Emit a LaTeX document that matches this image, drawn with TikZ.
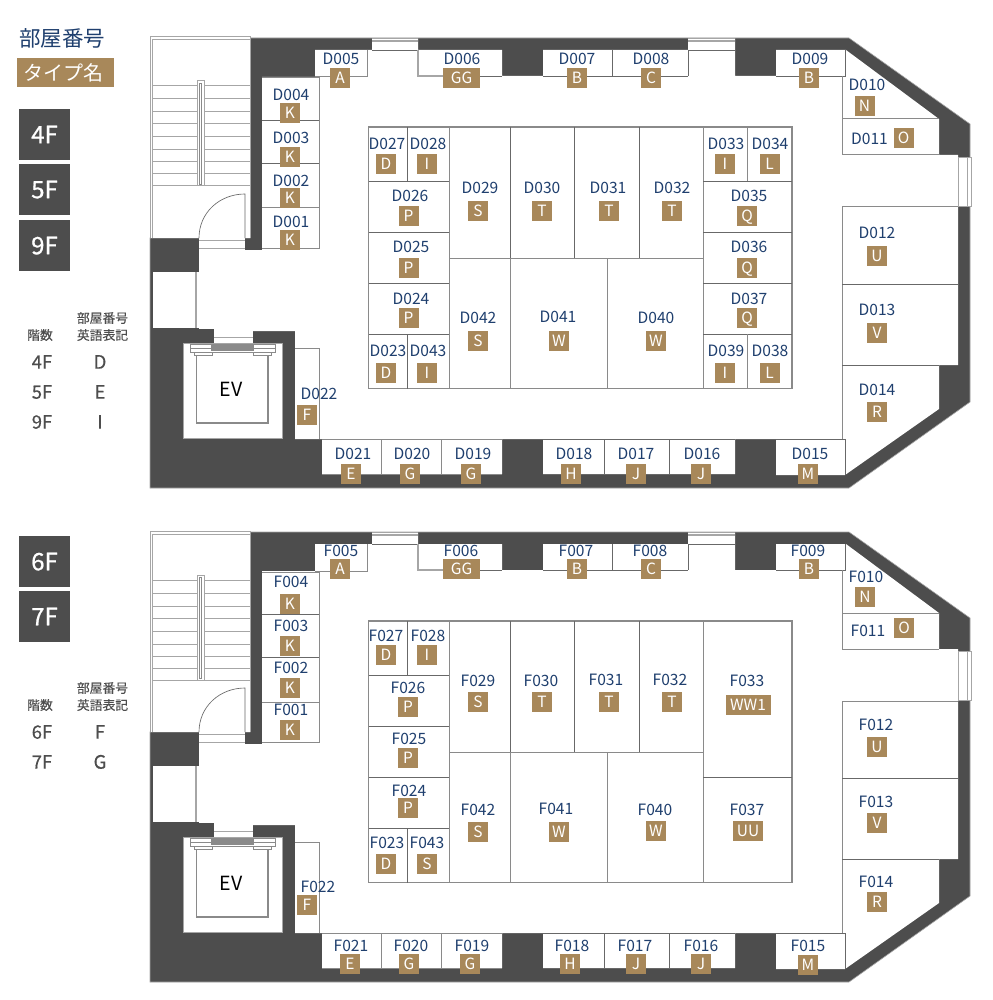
\documentclass[tikz,border=0pt]{standalone}
\usepackage{fontspec}
\setmainfont{Noto Sans CJK JP}
\definecolor{wall}{HTML}{4D4D4D}
\definecolor{tagc}{HTML}{A8885A}
\definecolor{navy}{HTML}{1F3F6E}
\definecolor{ln}{HTML}{8A8A8A}
\definecolor{lnl}{HTML}{A6A6A6}
\tikzset{
 roomtext/.style={inner sep=0pt,text=navy,font=\fontsize{15.6}{15.6}\selectfont,text height=11.4pt,text depth=0pt},
 tagbox/.style={inner sep=0pt,fill=tagc,text=white,minimum height=20pt,minimum width=20pt,font=\fontsize{15.5}{15.5}\selectfont,text height=11pt,text depth=0pt},
 floorbox/.style={inner sep=0pt,fill=wall,text=white,minimum size=51pt,font=\fontsize{24}{24}\selectfont\addfontfeature{FakeBold=0.8},text height=17.5pt,text depth=0pt},
 legendhead/.style={inner sep=0pt,text=wall,font=\fontsize{12.8}{12.8}\selectfont\addfontfeature{FakeBold=0.3}},
 legendcell/.style={inner sep=0pt,text=wall,font=\fontsize{18.5}{18.5}\selectfont\addfontfeature{FakeBold=0.4},text height=13.4pt,text depth=0pt},
 roomline/.style={draw=ln,line width=1pt},
 thinline/.style={draw=wall!85,line width=0.65pt},
 lightline/.style={draw=lnl,line width=1.2pt},
}
\newcommand\rmlab[7][20pt]{%
 \node[roomtext] (#2) at (#3,#4) {#2};
 \node[tagbox,minimum width=#1] (#2t) at (#6,#7) {#5};}
\newcommand\shell{%
 % walls
 \fill[wall,draw=lnl,line width=0.6pt] (150,238) -- (150,488) -- (849,488) -- (970,402) -- (970,124) -- (849,38) -- (250,38) -- (250,238) -- cycle;
 % free floor
 \fill[white] (199,250) -- (262,250) -- (262,77) -- (315,77) -- (315,50) -- (372,50) -- (372,38.5) -- (418,38.5) -- (418,50) -- (502,50) -- (502,76) -- (543,76) -- (543,50) -- (688,50) -- (688,38.5) -- (735,38.5) -- (735,76) -- (776,76) -- (776,50) -- (846,50) -- (939,119) -- (939,155) -- (958,155) -- (958,365) -- (939,365) -- (939,409) -- (845,475) -- (776,475) -- (776,439) -- (735,439) -- (735,474) -- (543,474) -- (543,439) -- (502,439) -- (502,474) -- (322,474) -- (322,439) -- (295,439) -- (295,331) -- (199,331) -- cycle;
 \fill[white] (199,238) rectangle (245,250);
 \fill[white] (153,272) rectangle (199,328);
 \fill[white] (150,37) rectangle (250,238);
 \fill[white] (183,343) rectangle (282,438);
 \fill[white] (214,331) rectangle (253,343);
 \fill[wall] (199,328.5) rectangle (214,343);
 \fill[white] (958,157) rectangle (971,206);
 % stair
 \draw[lightline,line width=1pt] (150,238) -- (150,37) -- (250,37) -- (250,238);
 \draw[lightline,line width=1pt] (152.5,238) -- (152.5,40) -- (250,40);
 \foreach \yy in {86,99,112,124,137,150,162,174,186}{
  \draw[lightline,line width=1pt] (153,\yy) -- (197,\yy) (204,\yy) -- (250,\yy);}
 \draw[lightline,line width=1pt] (197,81) rectangle (204,186);
 \draw[ln,line width=0.7pt] (199.5,83) rectangle (201.5,184);
 \draw[thinline] (199,238) .. controls (199,212.6) and (219.6,194) .. (245,194) -- (245,238);
 \draw[lightline,line width=0.9pt] (199,240) -- (245,240) (199,248) -- (245,248);
 \draw[lightline,line width=1.5pt] (196,272) -- (196,328);
 % windows
 \draw[lightline,line width=0.8pt] (372,38) -- (418,38) (688,38) -- (735,38);
 \draw[lightline] (372,41) -- (418,41) (688,41) -- (735,41);
 \draw[thinline] (372,50) -- (418,50) (688,50) -- (735,50);
 \draw[lightline,line width=0.8pt] (958,157) rectangle (971,206);
 \draw[lightline,line width=0.8pt] (967,157) -- (967,206);
 % elevator
 \draw[lightline,line width=0.8pt] (214,337) -- (253,337) (214,343) -- (253,343);
 \draw[lightline,line width=0.8pt] (183,343) rectangle (282,438);
 \draw[ln,line width=0.6pt] (190,344.5) rectangle (275,352) (190,348.2) -- (275,348.2);
 \fill[ln] (211,345) rectangle (254,351);
 \draw[ln,line width=0.7pt] (194,352) -- (194,355) -- (212,355) -- (212,352) (253,352) -- (253,355) -- (271,355) -- (271,352);
 \draw[ln,line width=1.4pt] (196.5,355) -- (196.5,423) -- (268,423) -- (268,355);
 \node[inner sep=0pt,text=black,font=\fontsize{19.5}{19.5}\selectfont,text height=14.5pt,text depth=0pt] (EV\thefloornum) at (231,389) {EV};
 % edge rooms
 \draw[roomline] (262,78) -- (319,78) -- (319,248) -- (262,248);
 \draw[thinline] (262,120) -- (319,120) (262,163) -- (319,163);
 \draw[roomline] (262,208) -- (319,208);
 \draw[roomline] (367,50) -- (367,77) -- (315,77);
 \draw[lightline] (418,50) -- (418,76) -- (443,76);
 \draw[thinline] (480,76) -- (502,76);
 \draw[thinline] (543,76) -- (688,76);
 \draw[thinline] (612,50) -- (612,76) (688,50) -- (688,76);
 \draw[thinline] (776,76) -- (845,76) -- (845,50);
 \draw[roomline] (842,76) -- (842,155) -- (939,155);
 \draw[roomline] (842,119) -- (939,119);
 \draw[roomline] (842,440) -- (842,207) -- (958,207);
 \draw[thinline] (842,284) -- (958,284) (842,365) -- (939,365);
 \draw[thinline] (776,439.5) -- (845,439.5) -- (845,475);
 \draw[thinline] (543,439.5) -- (735,439.5) (604,439.5) -- (604,474) (669,439.5) -- (669,474) (543,474) -- (735,474);
 \draw[roomline] (322,439.5) -- (502,439.5) (381,439.5) -- (381,474) (441,439.5) -- (441,474) (322,474) -- (502,474);
 \draw[roomline] (295,348) -- (319,348) -- (319,439);
 % central block
 \draw[roomline,line width=1.2pt] (368.5,127) rectangle (792,388.5);
 \draw[thinline] (368.5,181) -- (449,181) (368.5,232) -- (449,232) (368.5,283) -- (449,283) (368.5,334) -- (449,334);
 \draw[thinline] (407,127) -- (407,181) (407,334) -- (407,388.5);
 \draw[roomline] (449,127) -- (449,388.5);
 \draw[roomline] (449,258) -- (703,258);
 \draw[thinline] (510,127) -- (510,258);
 \draw[roomline] (510,258) -- (510,388.5) (607,258) -- (607,388.5);
 \draw[thinline] (574,127) -- (574,258) (639.5,127) -- (639.5,258);
 \draw[roomline] (703,127) -- (703,388.5);
}
\newcommand\rightblockD{%
 \draw[thinline] (703,181) -- (792,181) (703,232) -- (792,232) (703,283) -- (792,283) (703,334) -- (792,334);
 \draw[roomline] (747,127) -- (747,181) (747,334) -- (747,388.5);
}
\newcounter{floornum}
\begin{document}
\begin{tikzpicture}[x=1pt,y=-1pt]
\useasboundingbox (0,0) rectangle (992,1000);
\fill[white] (0,0) rectangle (992,1000);
% legend, upper
\node[inner sep=0pt,text=navy,font=\fontsize{21.5}{21.5}\selectfont] (ttl) at (62,38.5) {部屋番号};
\node[inner sep=0pt,fill=tagc,text=white,minimum width=97pt,minimum height=29pt,font=\fontsize{20}{20}\selectfont] (ttype) at (65.5,72.5) {\hspace{-5pt}タイプ名};
\node[floorbox] (f4) at (44.5,134.5) {4F};
\node[floorbox] (f5) at (44.5,189.5) {5F};
\node[floorbox] (f9) at (44.5,245.5) {9F};
\node[legendhead] (lh1) at (40,335) {階数};
\node[legendhead] (lh2) at (102.5,318) {部屋番号};
\node[legendhead] (lh3) at (102.5,335) {英語表記};
\node[legendcell] (a1) at (42,362) {4F};
\node[legendcell] (b1) at (100,362) {D};
\node[legendcell] (a2) at (42,392) {5F};
\node[legendcell] (b2) at (100,392) {E};
\node[legendcell] (a3) at (42,422) {9F};
\node[legendcell] (b3) at (100,422) {I};
% legend, lower
\node[floorbox] (f6) at (44.5,561.5) {6F};
\node[floorbox] (f7) at (44.5,616.5) {7F};
\node[legendhead] (lh4) at (40,705) {階数};
\node[legendhead] (lh5) at (102.5,688) {部屋番号};
\node[legendhead] (lh6) at (102.5,705) {英語表記};
\node[legendcell] (a4) at (42,732) {6F};
\node[legendcell] (b4) at (100,732) {F};
\node[legendcell] (a5) at (42,762) {7F};
\node[legendcell] (b5) at (100,762) {G};
% upper plan
\setcounter{floornum}{1}
\shell
\rightblockD
\rmlab{D001}{291}{222}{K}{290}{240}
\rmlab{D002}{291}{181}{K}{290}{198}
\rmlab{D003}{291}{138}{K}{290}{157}
\rmlab{D004}{291}{95}{K}{290}{113}
\rmlab{D005}{341}{59}{A}{340}{78}
\rmlab[37pt]{D006}{462}{59}{GG}{461.5}{78}
\rmlab{D007}{577}{59}{B}{577}{78}
\rmlab{D008}{651}{59}{C}{651}{78}
\rmlab{D009}{810}{59}{B}{809}{78}
\rmlab{D010}{867}{85}{N}{864.5}{106}
\rmlab{D011}{869.5}{138.5}{O}{903.5}{138}
\rmlab{D012}{877}{233}{U}{877}{256}
\rmlab{D013}{877}{309.5}{V}{877}{333}
\rmlab{D014}{877}{390}{R}{877}{412}
\rmlab{D015}{810}{453.5}{M}{808}{474}
\rmlab{D016}{702}{453.5}{J}{701}{474}
\rmlab{D017}{636}{453.5}{J}{636}{474}
\rmlab{D018}{574}{453.5}{H}{571}{474}
\rmlab{D019}{473}{453.5}{G}{471}{474}
\rmlab{D020}{412}{453.5}{G}{410}{474}
\rmlab{D021}{353}{453.5}{E}{351}{474}
\rmlab{D022}{319}{394}{F}{307}{415}
\rmlab{D023}{388}{351}{D}{386}{373}
\rmlab{D024}{411}{299}{P}{408.5}{318}
\rmlab{D025}{411}{247}{P}{408.5}{268}
\rmlab{D026}{410}{196}{P}{408.5}{216}
\rmlab{D027}{387}{144}{D}{386}{164.5}
\rmlab{D028}{428}{144}{I}{427}{164.5}
\rmlab{D029}{480}{188}{S}{478}{211}
\rmlab{D030}{542}{188}{T}{542}{211}
\rmlab{D031}{608}{188}{T}{609}{211}
\rmlab{D032}{672}{188}{T}{672}{211}
\rmlab{D033}{726}{144}{I}{725}{164.5}
\rmlab{D034}{770}{144}{L}{769.5}{164.5}
\rmlab{D035}{749}{196}{Q}{747}{216}
\rmlab{D036}{749}{247}{Q}{747}{268}
\rmlab{D037}{749}{299}{Q}{747}{318}
\rmlab{D038}{770}{351}{L}{769.5}{373}
\rmlab{D039}{726}{351}{I}{725}{373}
\rmlab{D040}{656}{318}{W}{656}{341}
\rmlab{D041}{558}{317}{W}{559}{341}
\rmlab{D042}{478}{318}{S}{478}{341}
\rmlab{D043}{428}{351}{I}{427}{373}
% lower plan
\setcounter{floornum}{2}
\begin{scope}[yshift=-494pt]
\shell
\draw[thinline] (703,283) -- (792,283);
\end{scope}
\rmlab{F001}{291}{710}{K}{290}{730}
\rmlab{F002}{291}{668}{K}{290}{688}
\rmlab{F003}{291}{626}{K}{290}{646}
\rmlab{F004}{291}{582}{K}{290}{604}
\rmlab{F005}{341}{551}{A}{340}{568.5}
\rmlab[37pt]{F006}{461}{551}{GG}{461.5}{568.5}
\rmlab{F007}{576}{551}{B}{577}{569}
\rmlab{F008}{650}{551}{C}{651}{568.5}
\rmlab{F009}{808}{551}{B}{809}{569}
\rmlab{F010}{866}{577}{N}{865}{597}
\rmlab{F011}{868}{631}{O}{904}{628}
\rmlab{F012}{876}{725}{U}{877}{747}
\rmlab{F013}{876}{802}{V}{877}{823}
\rmlab{F014}{876}{882}{R}{877}{902}
\rmlab{F015}{808}{946}{M}{808}{965}
\rmlab{F016}{701}{946}{J}{701}{964}
\rmlab{F017}{635}{946}{J}{636}{964}
\rmlab{F018}{572}{946}{H}{570}{964}
\rmlab{F019}{472}{946}{G}{470}{964}
\rmlab{F020}{411}{946}{G}{409}{964}
\rmlab{F021}{351}{946}{E}{350}{964}
\rmlab{F022}{318}{887}{F}{307}{905}
\rmlab{F023}{387}{843}{D}{386}{864}
\rmlab{F024}{409}{791}{P}{408}{808}
\rmlab{F025}{409}{739}{P}{408}{758}
\rmlab{F026}{408}{688}{P}{408}{707}
\rmlab{F027}{386}{636}{D}{386}{655}
\rmlab{F028}{428}{636}{I}{427}{655}
\rmlab{F029}{478}{681}{S}{478}{702}
\rmlab{F030}{541}{681}{T}{542}{702}
\rmlab{F031}{606}{680}{T}{609}{702}
\rmlab{F032}{670}{680}{T}{672}{702}
\rmlab[45pt]{F033}{747}{681}{WW1}{748}{705}
\rmlab[30pt]{F037}{747}{810}{UU}{748}{831}
\rmlab{F040}{655}{810}{W}{656}{831}
\rmlab{F041}{556}{809}{W}{559}{832}
\rmlab{F042}{478}{810}{S}{478}{832}
\rmlab{F043}{427}{843}{S}{427}{864}
\end{tikzpicture}
\end{document}
